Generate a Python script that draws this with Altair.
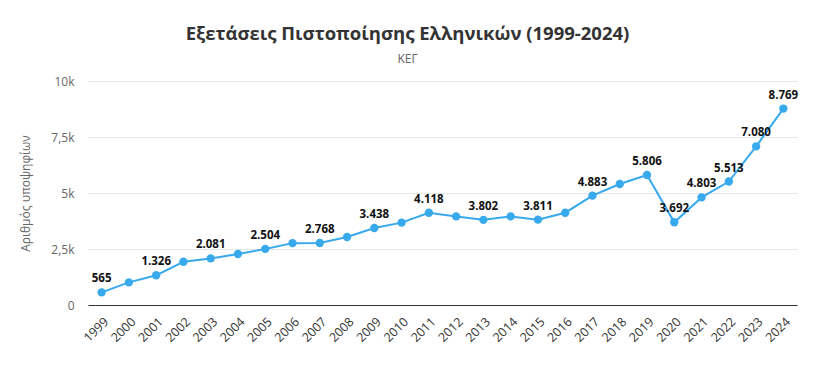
import altair as alt
import pandas as pd

years = [str(y) for y in range(1999, 2025)]
candidates = [565, 1010, 1326, 1930, 2081, 2275, 2504, 2762, 2768, 3035, 3438, 3676,
              4118, 3955, 3802, 3955, 3811, 4120, 4883, 5400, 5806, 3692, 4803, 5513,
              7080, 8769]
labelled = [1, 0, 1, 0, 1, 0, 1, 0, 1, 0, 1, 0, 1, 0, 1, 0, 1, 0, 1, 0, 1, 1, 1, 1, 1, 1]

df = pd.DataFrame({"year": years, "value": candidates, "show": labelled})

blue = "#38a9ec"

x = alt.X("year:O", title=None,
          scale=alt.Scale(type="point", padding=0.5),
          axis=alt.Axis(labelAngle=-45, labelFontSize=12.5, labelColor="#333",
                        labelFont="Open Sans", domainColor="#333", domainWidth=1.2,
                        ticks=False, labelPadding=10, grid=False))
y = alt.Y("value:Q", title="Αριθμός υποψηφίων",
          scale=alt.Scale(domain=[0, 10000], nice=False),
          axis=alt.Axis(values=[0, 2500, 5000, 7500, 10000],
                        labelExpr="datum.value == 0 ? '0' : replace(format(datum.value/1000, '.1~f'), '.', ',') + 'k'",
                        labelFontSize=12, labelColor="#666", labelFont="Open Sans",
                        titleFontSize=12, titleColor="#666", titleFont="Open Sans",
                        titleFontWeight="normal", titlePadding=18,
                        domain=False, ticks=False, labelPadding=14,
                        gridColor="#e6e6e6"))

base = alt.Chart(df)

line = base.mark_line(color=blue, strokeWidth=2).encode(x=x, y=y)
points = base.mark_circle(color=blue, size=70, opacity=1).encode(x=x, y=y)
labels = base.transform_filter("datum.show == 1").transform_calculate(
    lab="replace(format(datum.value, ','), ',', '.')"
).mark_text(dy=-13, fontSize=11.5, fontWeight="bold", font="Open Sans", color="#111").encode(
    x=x, y=y, text="lab:N")

chart = alt.layer(line, points, labels).properties(
    width=709, height=224,
    background="white",
    title=alt.TitleParams(text="Εξετάσεις Πιστοποίησης Ελληνικών (1999-2024)",
                          subtitle="ΚΕΓ", anchor="middle", fontSize=18.5, dx=-35,
                          font="Open Sans", fontWeight="bold", color="#333",
                          subtitleFont="Open Sans", subtitleFontSize=12,
                          subtitleColor="#666", offset=10, subtitlePadding=11),
    autosize=alt.AutoSizeParams(type="none"),
    padding={"left": 80, "top": 73, "right": 10, "bottom": 63},
).configure_view(stroke="transparent", strokeWidth=0)

chart.save("out.html", embed_options={"renderer": "svg", "actions": False})
